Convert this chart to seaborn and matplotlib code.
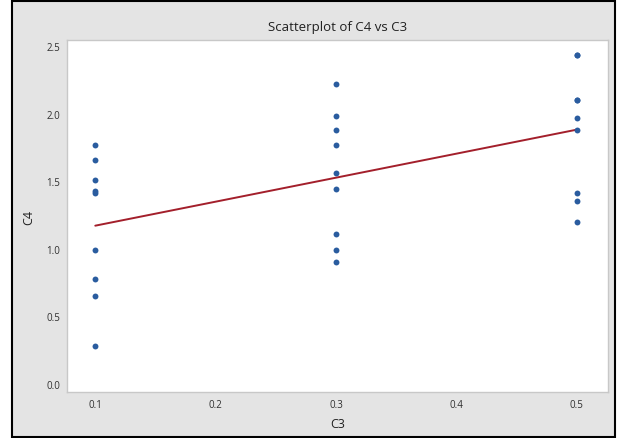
import numpy as np
import pandas as pd
import matplotlib
matplotlib.use('Agg')
import matplotlib.pyplot as plt
from matplotlib.patches import Rectangle
import seaborn as sns

# data (two hidden duplicates at C3=0.5 keep the fit line where it is)
c3_low = [0.1] * 9
c4_low = [1.77, 1.66, 1.51, 1.43, 1.41, 0.99, 0.78, 0.65, 0.28]
c3_mid = [0.3] * 9
c4_mid = [2.22, 1.98, 1.88, 1.77, 1.56, 1.44, 1.11, 0.99, 0.90]
c3_high = [0.5] * 9
c4_high = [2.43, 2.43, 2.10, 2.10, 1.97, 1.88, 1.41, 1.35, 1.20]

x_ticks = [0.1, 0.2, 0.3, 0.4, 0.5]
y_ticks = [0.0, 0.5, 1.0, 1.5, 2.0, 2.5]

df = pd.DataFrame({'C3': c3_low + c3_mid + c3_high,
                   'C4': c4_low + c4_mid + c4_high})

sns.set_style('white')
plt.rcParams['font.family'] = ['Open Sans', 'DejaVu Sans']

W, H = 620, 439
fig = plt.figure(figsize=(W / 100, H / 100), dpi=100)
fig.patch.set_facecolor('white')

# grey frame with black border, like the Minitab graph window
fig.patches.append(Rectangle((12 / W, 1.5 / H), 603 / W, 436 / H,
                             transform=fig.transFigure, facecolor='#e4e4e4',
                             edgecolor='black', linewidth=1.5, zorder=-1))

ax = fig.add_axes([67 / W, 1 - 393 / H, (608 - 67) / W, (393 - 41) / H])
ax.set_facecolor('white')

sns.regplot(data=df, x='C3', y='C4', ci=None, ax=ax,
            scatter_kws={'color': '#2a5c9f', 's': 18, 'alpha': 1,
                         'linewidths': 0, 'zorder': 3},
            line_kws={'color': '#a31f2b', 'linewidth': 1.4, 'zorder': 2})

ax.set_xlim(0.0765, 0.526)
ax.set_ylim(-0.059, 2.544)
ax.set_xticks(x_ticks)
ax.set_xticklabels([f'{t:.1f}' for t in x_ticks])
ax.set_yticks(y_ticks)
ax.set_yticklabels([f'{t:.1f}' for t in y_ticks])
ax.tick_params(axis='both', direction='out', length=3, width=0.8, color='#909090',
               labelsize=7, labelcolor='#303030', pad=2)
for s in ax.spines.values():
    s.set_color('#c8c8c8')
    s.set_linewidth(1.0)

ax.set_title('Scatterplot of C4 vs C3', fontsize=9.5, color='#202020', pad=7)
ax.set_xlabel('C3', fontsize=9, color='#202020', labelpad=5)
ax.set_ylabel('C4', fontsize=9, color='#202020', labelpad=8)

fig.savefig('out.png', dpi=100)
